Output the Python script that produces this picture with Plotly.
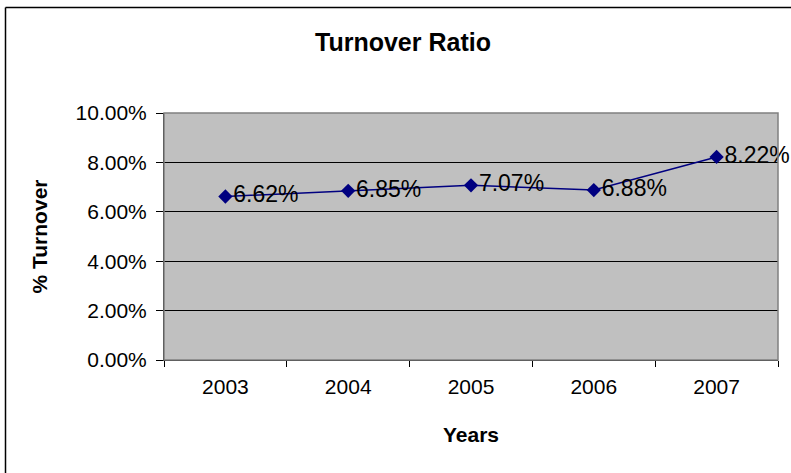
import plotly.graph_objects as go

# Turnover ratio by year
years = ["2003", "2004", "2005", "2006", "2007"]
turnover = [0.0662, 0.0685, 0.0707, 0.0688, 0.0822]
y_ticks = [0.0, 0.02, 0.04, 0.06, 0.08, 0.10]

W, H = 791, 473
ML, MR, MT, MB = 164, 13, 113, 113
pw, ph = W - ML - MR, H - MT - MB

def px_x(x):
    return (x - ML) / pw

def px_y(y):
    return (H - MB - y) / ph

font_family = "Liberation Sans, Arial, sans-serif"

fig = go.Figure()
fig.add_trace(go.Scatter(
    x=years,
    y=turnover,
    mode="lines+markers+text",
    line=dict(color="#000080", width=1.5),
    marker=dict(symbol="diamond", size=11, color="#000080"),
    text=[f"{v:.2%}" for v in turnover],
    textposition="middle right",
    textfont=dict(family=font_family, size=23, color="#000000"),
    cliponaxis=False,
    showlegend=False,
))

fig.update_layout(
    width=W,
    height=H,
    margin=dict(l=ML, r=MR, t=MT, b=MB),
    paper_bgcolor="white",
    plot_bgcolor="#C0C0C0",
    font=dict(family=font_family, size=21, color="#000000"),
    xaxis=dict(
        type="category",
        tickson="boundaries",
        ticks="outside",
        ticklen=6,
        tickcolor="#000000",
        showgrid=False,
        showline=True,
        linecolor="#000000",
        linewidth=1,
        tickfont=dict(size=21),
        ticklabelstandoff=8,
        range=[-0.5, 4.5],
        title=dict(text="<b>Years</b>", font=dict(size=21), standoff=30),
    ),
    yaxis=dict(
        range=[0, 0.10],
        tickvals=y_ticks,
        tickformat=".2%",
        ticks="outside",
        ticklen=7,
        tickcolor="#000000",
        showgrid=True,
        gridcolor="#000000",
        gridwidth=1,
        showline=True,
        linecolor="#000000",
        linewidth=1,
        zeroline=False,
        tickfont=dict(size=21),
        ticklabelstandoff=5,
        title=dict(text="<b>% Turnover</b>", font=dict(size=21), standoff=22),
    ),
    annotations=[
        dict(
            text="<b>Turnover Ratio</b>",
            x=px_x(403), y=px_y(42),
            xref="paper", yref="paper",
            xanchor="center", yanchor="middle",
            showarrow=False,
            font=dict(size=25),
        )
    ],
    shapes=[
        # plot area frame
        dict(type="rect", xref="paper", yref="paper", x0=0, y0=0, x1=1, y1=1,
             line=dict(color="#808080", width=1.5), layer="above"),
        # chart border (left and top edges)
        dict(type="line", xref="paper", yref="paper",
             x0=px_x(5.5), x1=px_x(5.5), y0=px_y(7.5), y1=px_y(480),
             line=dict(color="#000000", width=1.5)),
        dict(type="line", xref="paper", yref="paper",
             x0=px_x(5.5), x1=px_x(800), y0=px_y(7.5), y1=px_y(7.5),
             line=dict(color="#000000", width=1.5)),
    ],
)

fig.write_html("out.html")
